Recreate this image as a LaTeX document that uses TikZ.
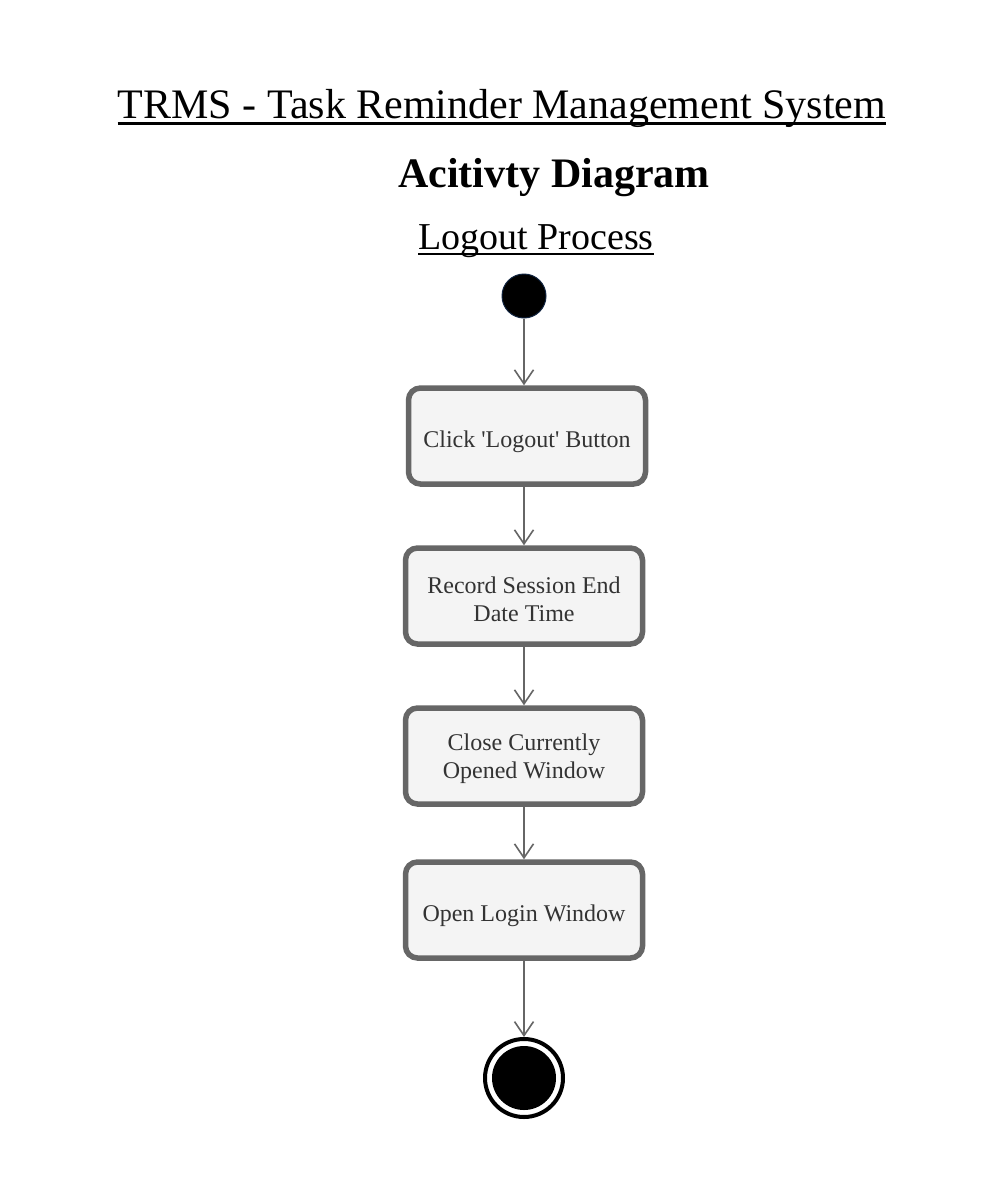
\documentclass[tikz,border=0pt]{standalone}
\usepackage{fontspec}
\setmainfont{Liberation Serif}[Ligatures=TeXOff]
\usetikzlibrary{arrows.meta}
\definecolor{boxline}{HTML}{666666}
\definecolor{boxfill}{HTML}{F4F4F4}
\definecolor{boxtext}{HTML}{333333}
\definecolor{startline}{HTML}{10233F}
\tikzset{
  actbox/.style={draw=boxline, line width=5.5pt, fill=boxfill, rounded corners=12pt,
    minimum width=237pt, minimum height=96pt, inner sep=0pt},
  acttext/.style={inner sep=0pt, align=center, text=boxtext,
    font=\fontsize{24}{28}\selectfont},
  flow/.style={draw=boxline, line width=1.6pt,
    -{Straight Barb[length=14pt,width=19pt,line width=1.6pt]}},
  titletext/.style={inner sep=0pt, anchor=base},
  uline/.style={line width=2.6pt, black}
}
\begin{document}
\begin{tikzpicture}[x=1pt,y=-1pt]
\useasboundingbox (0,0) rectangle (1003,1203);
\fill[white] (0,0) rectangle (1003,1203);
% titles
\node[titletext, font=\fontsize{42}{48}\selectfont] (title) at (502,118) {TRMS - Task Reminder Management System};
\draw[uline] ([yshift=-5.5pt]title.base west) -- ([yshift=-5.5pt]title.base east);
\node[titletext, font=\fontsize{42}{48}\selectfont\bfseries] (sub) at (554,187) {Acitivty Diagram};
\node[titletext, font=\fontsize{38}{44}\selectfont] (proc) at (536,249) {Logout Process};
\draw[uline, line width=2.4pt] ([yshift=-5pt]proc.base west) -- ([yshift=-5pt]proc.base east);
% nodes
\node[circle, fill=black, draw=startline, line width=1pt, minimum size=44pt, inner sep=0pt] (start) at (524,296) {};
\node[actbox] (a1) at (527,436) {};
\node[acttext] (t1) at (527,442) {Click 'Logout' Button};
\node[actbox] (a2) at (524,596) {};
\node[acttext] (t2) at (524,599) {Record Session End\\Date Time};
\node[actbox] (a3) at (524,756) {};
\node[acttext] (t3) at (524,759) {Close Currently\\Opened Window};
\node[actbox] (a4) at (524,910) {};
\node[acttext] (t4) at (524,916) {Open Login Window};
\node[circle, draw=black, line width=4pt, fill=white, minimum size=78pt, inner sep=0pt] (end) at (524,1078) {};
\node[circle, fill=black, minimum size=64pt, inner sep=0pt] (endin) at (end.center) {};
% flows
\draw[flow] (start) -- (start |- a1.north);
\draw[flow] ([xshift=-3pt]a1.south) -- (a2.north);
\draw[flow] (a2) -- (a3);
\draw[flow] (a3) -- (a4);
\draw[flow] (a4) -- (end);
\end{tikzpicture}
\end{document}
